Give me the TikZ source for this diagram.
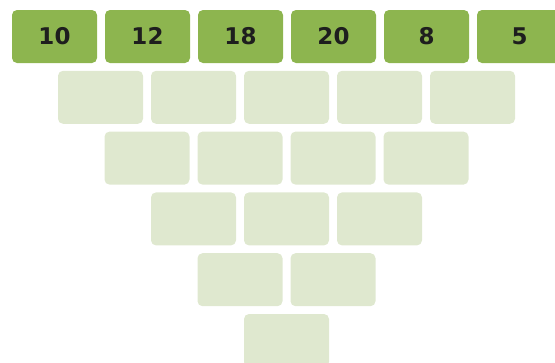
\documentclass[tikz,border=0pt]{standalone}
\usepackage{fontspec}
\setsansfont{DejaVu Sans}
\usepackage{tikz}
\usetikzlibrary{positioning, calc}
\definecolor{topgreen}{HTML}{8DB54F}
\definecolor{cellgreen}{HTML}{DFE8CF}
\definecolor{numink}{HTML}{1E1E1E}
\tikzset{
  topbox/.style  = {fill=topgreen, rounded corners=5pt, minimum width=85pt,
                    minimum height=53pt, inner sep=0pt, text=numink,
                    text height=16.8pt, text depth=0pt,
                    font=\sffamily\bfseries\fontsize{23}{23}\selectfont},
  cellbox/.style = {fill=cellgreen, rounded corners=5pt, minimum width=85pt,
                    minimum height=53pt, inner sep=0pt},
}

\begin{document}
\begin{tikzpicture}[x=1pt, y=1pt, node distance=7.4pt and 7.6pt]
    \useasboundingbox (0,0) rectangle (555,-362);
    \clip (0,0) rectangle (555,-362);

    % --- top row: the values ------------------------------------------------
    \node[topbox] (t1) at (54.5,-36.5) {10};
    \node[topbox, right=of t1] (t2) {12};
    \node[topbox, right=of t2] (t3) {18};
    \node[topbox, right=of t3] (t4) {20};
    \node[topbox, right=of t4] (t5) {8};
    \node[topbox, right=of t5] (t6) {5};

    % --- second row ---------------------------------------------------------
    \node[cellbox, below=of $(t1.south)!0.5!(t2.south)$, xshift=-0.5pt] (a1) {};
    \node[cellbox, right=of a1] (a2) {};
    \node[cellbox, right=of a2] (a3) {};
    \node[cellbox, right=of a3] (a4) {};
    \node[cellbox, right=of a4] (a5) {};

    % --- third row ----------------------------------------------------------
    \node[cellbox, below=of $(a1.south)!0.5!(a2.south)$] (b1) {};
    \node[cellbox, right=of b1] (b2) {};
    \node[cellbox, right=of b2] (b3) {};
    \node[cellbox, right=of b3] (b4) {};

    % --- fourth row ---------------------------------------------------------
    \node[cellbox, below=of $(b1.south)!0.5!(b2.south)$] (c1) {};
    \node[cellbox, right=of c1] (c2) {};
    \node[cellbox, right=of c2] (c3) {};

    % --- fifth row ----------------------------------------------------------
    \node[cellbox, below=of $(c1.south)!0.5!(c2.south)$] (d1) {};
    \node[cellbox, right=of d1] (d2) {};

    % --- last row -----------------------------------------------------------
    \node[cellbox, below=of $(d1.south)!0.5!(d2.south)$] (e1) {};
  \end{tikzpicture}
\end{document}
